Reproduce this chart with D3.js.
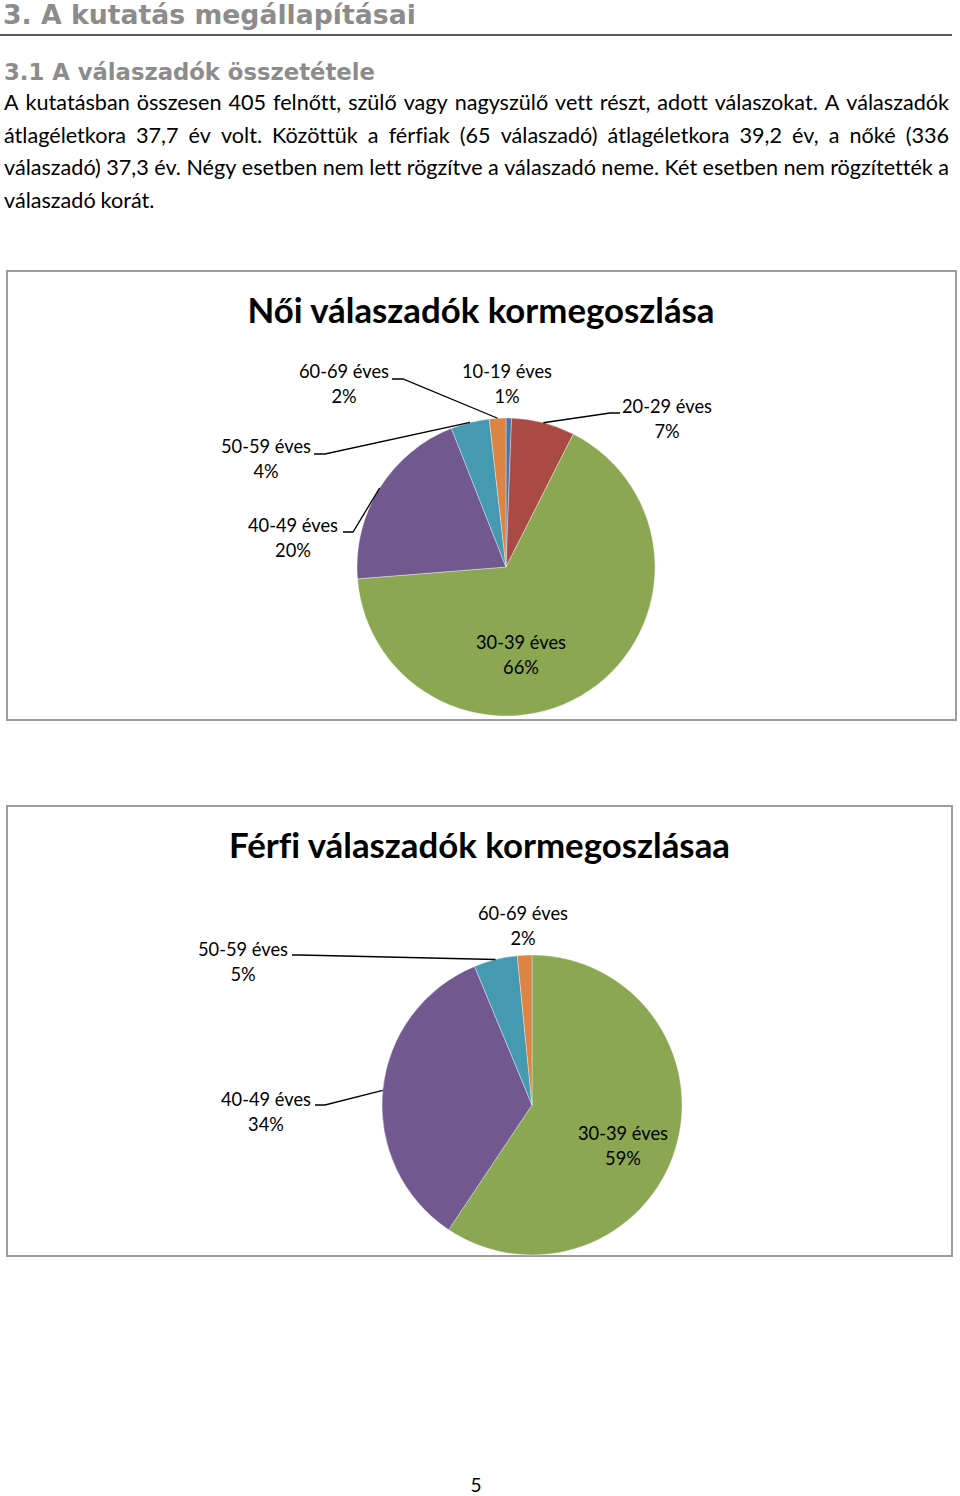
<!DOCTYPE html>
<html>
<head>
<meta charset="utf-8">
<script src="https://cdn.jsdelivr.net/npm/d3@7"></script>
<style>
  html, body { margin: 0; padding: 0; background: #fff; }
  svg { display: block; }
  text { font-variant-ligatures: none; }
</style>
</head>
<body>
<svg id="page" width="960" height="1496"></svg>
<script>
// ---------------- DATA ----------------
const categories = ["10-19 éves", "20-29 éves", "30-39 éves", "40-49 éves", "50-59 éves", "60-69 éves"];
const femaleCounts = [2, 23, 222, 68, 14, 6];
const maleCounts   = [0, 0, 38, 22, 3, 1];
const sliceColors  = ["#4F74A6", "#A94A47", "#8BA751", "#71598F", "#4599B1", "#DB8443"];

const heading1 = "3. A kutatás megállapításai";
const heading2 = "3.1 A válaszadók összetétele";
const bodyLines = [
  "A kutatásban összesen 405 felnőtt, szülő vagy nagyszülő vett részt, adott válaszokat. A válaszadók",
  "átlagéletkora 37,7 év volt. Közöttük a férfiak (65 válaszadó) átlagéletkora 39,2 év, a nőké (336",
  "válaszadó) 37,3 év. Négy esetben nem lett rögzítve a válaszadó neme. Két esetben nem rögzítették a",
  "válaszadó korát."
];
const femaleTitle = "Női válaszadók kormegoszlása";
const maleTitle = "Férfi válaszadók kormegoszlásaa";
const pageNumber = "5";

// ---------------- LAYOUT ----------------
const headFont = "'DejaVu Sans', Verdana, sans-serif";
const bodyFont = "Lato, 'Open Sans', sans-serif";

const charts = [
  {
    counts: femaleCounts, title: femaleTitle,
    box: {x: 7, y: 271, w: 949, h: 449},
    titleX: 481, titleY: 323, titleW: 467,
    cx: 506, cy: 567, r: 149,
    labels: {
      0: {x: 507, y: 378},
      1: {x: 667, y: 413, leader: [[620, 413], [610, 413]]},
      2: {x: 521, y: 649},
      3: {x: 293, y: 532, leader: [[343, 532], [353, 532]]},
      4: {x: 266, y: 453, leader: [[314, 454], [325, 454]]},
      5: {x: 344, y: 378, leader: [[392, 379], [403, 379]]}
    }
  },
  {
    counts: maleCounts, title: maleTitle,
    box: {x: 7, y: 806, w: 945, h: 450},
    titleX: 479.5, titleY: 858, titleW: 501,
    cx: 532, cy: 1105, r: 150,
    labels: {
      2: {x: 623, y: 1140},
      3: {x: 266, y: 1106, leader: [[315, 1105], [325, 1105]]},
      4: {x: 243, y: 956, leader: [[292, 955], [300, 955]]},
      5: {x: 523, y: 920}
    }
  }
];

const svg = d3.select("#page");

function fitSize(sel, targetWidth) {
  const base = 100;
  sel.attr("font-size", base);
  const w = sel.node().getComputedTextLength();
  const size = base * targetWidth / w;
  sel.attr("font-size", size);
  return size;
}

// ---------------- HEADINGS ----------------
const h1 = svg.append("text").text(heading1)
  .attr("x", 3).attr("y", 24)
  .attr("font-family", headFont).attr("font-weight", "bold")
  .attr("fill", "#8C8C8C");
fitSize(h1, 413);

svg.append("line").attr("x1", 0).attr("x2", 952).attr("y1", 35).attr("y2", 35)
  .attr("stroke", "#5a5a5a").attr("stroke-width", 2);

const h2 = svg.append("text").text(heading2)
  .attr("x", 4).attr("y", 80)
  .attr("font-family", headFont).attr("font-weight", "bold")
  .attr("fill", "#8C8C8C");
fitSize(h2, 371);

// ---------------- BODY TEXT (justified) ----------------
const probe = svg.append("text").text(bodyLines[3]).attr("font-family", bodyFont);
const bodySize = fitSize(probe, 151);
probe.remove();

const bodyLeft = 4, bodyRight = 949;
const baselines = [110, 142.5, 175, 207.5];
bodyLines.forEach((line, i) => {
  const words = line.split(" ");
  const g = svg.append("g");
  const nodes = words.map(w => g.append("text").text(w)
    .attr("font-family", bodyFont).attr("font-size", bodySize)
    .attr("fill", "#000").attr("y", baselines[i]));
  const widths = nodes.map(n => n.node().getComputedTextLength());
  const total = d3.sum(widths);
  const justify = i < bodyLines.length - 1;
  const spaceW = bodySize * 0.226;
  const gap = justify ? (bodyRight - bodyLeft - total) / (words.length - 1) : spaceW;
  let x = bodyLeft;
  nodes.forEach((n, k) => { n.attr("x", x); x += widths[k] + gap; });
});

// ---------------- CHARTS ----------------
charts.forEach(ch => {
  svg.append("rect")
    .attr("x", ch.box.x).attr("y", ch.box.y)
    .attr("width", ch.box.w).attr("height", ch.box.h)
    .attr("fill", "#fff").attr("stroke", "#9c9c9c").attr("stroke-width", 2);

  const t = svg.append("text").text(ch.title)
    .attr("x", ch.titleX).attr("y", ch.titleY)
    .attr("text-anchor", "middle")
    .attr("font-family", bodyFont).attr("font-weight", "bold").attr("fill", "#000");
  fitSize(t, ch.titleW);

  const total = d3.sum(ch.counts);
  const pie = d3.pie().sort(null).value(d => d).startAngle(0).endAngle(2 * Math.PI);
  const arcs = pie(ch.counts);
  const arc = d3.arc().innerRadius(0).outerRadius(ch.r);

  const g = svg.append("g").attr("transform", `translate(${ch.cx},${ch.cy})`);
  g.selectAll("path").data(arcs.filter(a => a.value > 0)).join("path")
    .attr("d", arc)
    .attr("fill", d => sliceColors[d.index])
    .attr("stroke", "rgba(255,255,255,0.45)")
    .attr("stroke-width", 0.8);

  // labels
  const probeL = svg.append("text").text("60-69 éves").attr("font-family", bodyFont);
  const labelSize = fitSize(probeL, 90);
  probeL.remove();

  arcs.forEach(a => {
    const lay = ch.labels[a.index];
    if (!lay || a.value === 0) return;
    const pct = Math.round(a.value / total * 100) + "%";
    const txt = svg.append("text")
      .attr("text-anchor", "middle")
      .attr("font-family", bodyFont).attr("font-size", labelSize).attr("fill", "#000");
    txt.append("tspan").attr("x", lay.x).attr("y", lay.y).text(categories[a.index]);
    txt.append("tspan").attr("x", lay.x).attr("y", lay.y + 25).text(pct);

    if (lay.leader) {
      const mid = (a.startAngle + a.endAngle) / 2;
      const px = ch.cx + ch.r * Math.sin(mid);
      const py = ch.cy - ch.r * Math.cos(mid);
      const pts = lay.leader.concat([[px, py]]);
      svg.append("path")
        .attr("d", d3.line()(pts))
        .attr("fill", "none").attr("stroke", "#000").attr("stroke-width", 1.3);
    }
  });
});

// ---------------- PAGE NUMBER ----------------
svg.append("text").text(pageNumber)
  .attr("x", 476).attr("y", 1492)
  .attr("text-anchor", "middle")
  .attr("font-family", bodyFont).attr("font-size", 19).attr("fill", "#000");
</script>
</body>
</html>
